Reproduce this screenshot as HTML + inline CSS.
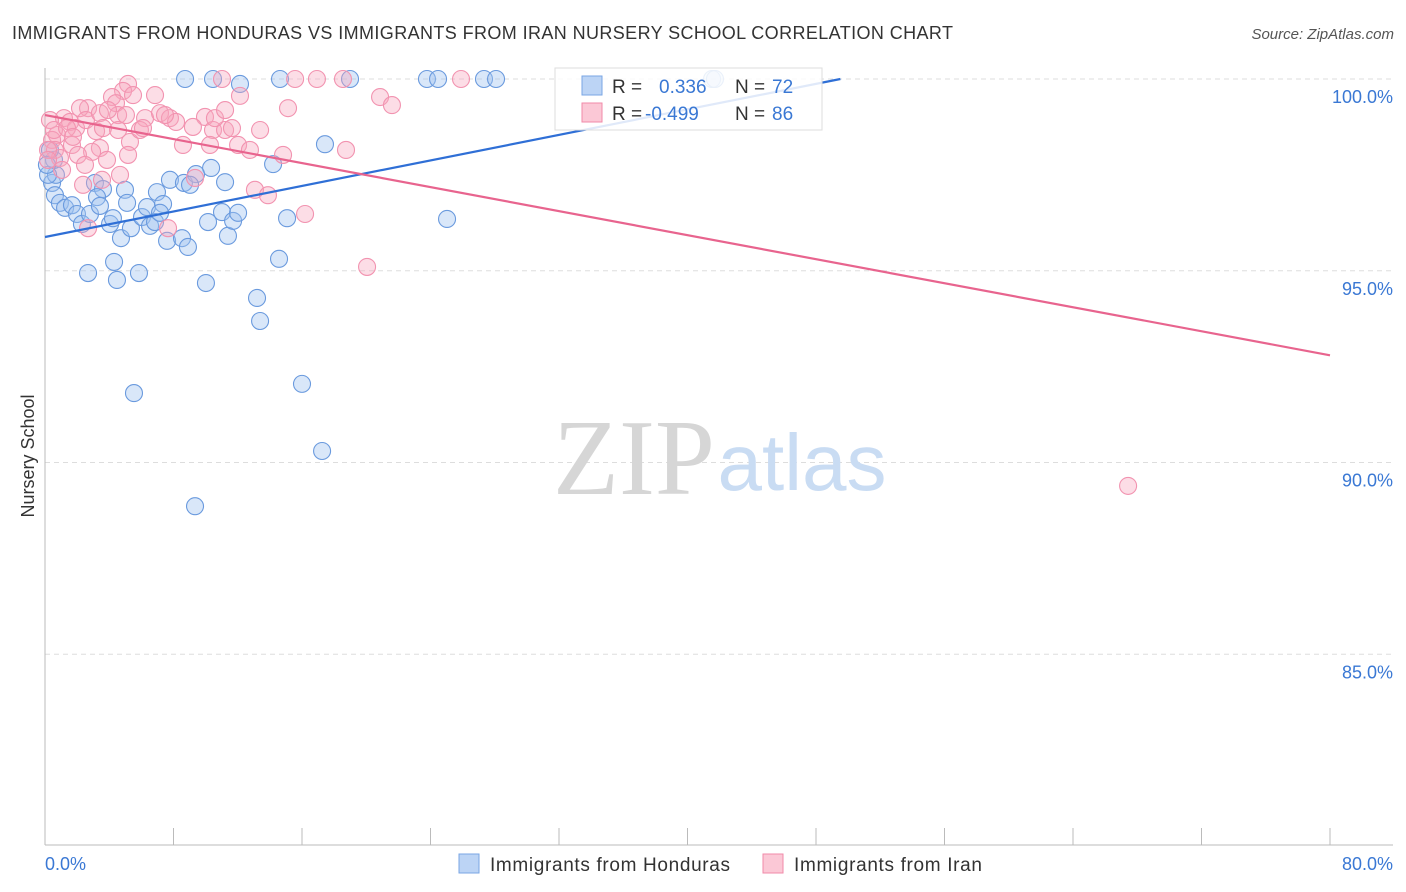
<!DOCTYPE html>
<html><head><meta charset="utf-8"><style>
body{margin:0;background:#fff;font-family:"Liberation Sans",sans-serif}
#wrap{position:relative;width:1406px;height:892px;overflow:hidden}
</style></head><body>
<div id="wrap">
<svg id="svg" width="1406" height="892" xmlns="http://www.w3.org/2000/svg">
<text x="12" y="39" font-size="18" fill="#333" textLength="941">IMMIGRANTS FROM HONDURAS VS IMMIGRANTS FROM IRAN NURSERY SCHOOL CORRELATION CHART</text>
<text x="1394" y="39" font-size="15" fill="#555" font-style="italic" text-anchor="end">Source: ZipAtlas.com</text>
<text x="0" y="0" transform="translate(34,456) rotate(-90)" font-size="18" fill="#333" text-anchor="middle">Nursery School</text>
<g id="grid"></g>
<g>
<text x="634" y="494" font-family="Liberation Serif,serif" font-size="108" fill="#d6d6d6" text-anchor="middle">ZIP</text>
<text x="802" y="490" font-size="80" fill="#c9dcf3" text-anchor="middle">atlas</text>
</g>
<g id="pts"></g>
<g id="trends"></g>
<g>
<rect x="555" y="68" width="267" height="62" fill="#fff" fill-opacity="0.85" stroke="#ddd"/>
<rect x="582" y="76" width="20" height="19" fill="#bcd4f5" stroke="#7aa6e4"/>
<rect x="582" y="103" width="20" height="19" fill="#fbc8d6" stroke="#f08aa8"/>
<text x="612" y="93" font-size="19" fill="#333">R = </text><text x="659" y="93" font-size="19" fill="#3a78d4">0.336</text>
<text x="735" y="93" font-size="19" fill="#333">N = </text><text x="772" y="93" font-size="19" fill="#3a78d4">72</text>
<text x="612" y="120" font-size="19" fill="#333">R = </text><text x="645" y="120" font-size="19" fill="#3a78d4">-0.499</text>
<text x="735" y="120" font-size="19" fill="#333">N = </text><text x="772" y="120" font-size="19" fill="#3a78d4">86</text>
</g>
<g>
<rect x="459" y="854" width="20" height="19" fill="#bcd4f5" stroke="#7aa6e4"/>
<text x="490" y="871" font-size="19" fill="#333" textLength="240">Immigrants from Honduras</text>
<rect x="763" y="854" width="20" height="19" fill="#fbc8d6" stroke="#f08aa8"/>
<text x="794" y="871" font-size="19" fill="#333" textLength="188">Immigrants from Iran</text>
</g>
</svg>
</div>
<script>
const yTicks=[100,95,90,85];
const yTickLabels=["100.0%","95.0%","90.0%","85.0%"];
const xTickCount=[0,8,16,24,32,40,48,56,64,72,80];
const xEndLabels=["0.0%","80.0%"];
const hondurasX=[8.72,10.46,12.14,14.63,18.99,23.78,24.47,27.33,28.08,41.53,41.71,17.43,10.34,14.20,0.44,0.68,3.11,3.61,4.98,6.97,7.78,8.65,9.40,9.03,11.21,0.62,0.93,1.25,1.68,1.99,2.30,2.80,3.24,3.42,4.05,4.23,4.73,5.11,5.35,6.04,6.35,6.54,6.85,7.35,7.16,7.60,8.53,8.90,10.15,11.02,11.39,11.71,12.02,15.07,25.03,14.57,4.30,2.68,4.48,5.85,10.02,13.20,13.39,5.54,16.00,17.25,9.34,0.19,0.56,0.31,0.12];
const hondurasY=[100,100,99.87,100,100,100,100,100,100,100,100,98.30,97.68,97.78,97.29,97.50,97.29,97.13,97.11,97.05,97.37,97.29,97.52,97.24,97.31,96.97,96.77,96.64,96.71,96.48,96.22,96.48,96.92,96.69,96.22,96.37,95.85,96.77,96.11,96.40,96.66,96.17,96.27,96.74,96.51,95.78,95.85,95.62,96.27,96.53,95.91,96.30,96.51,96.37,96.35,95.31,95.23,94.94,94.76,94.94,94.68,94.29,93.69,91.81,92.05,90.30,88.86,97.50,97.89,98.15,97.76];
const iranX=[12.14,15.57,16.93,18.55,25.90,11.02,5.17,4.86,20.86,21.60,15.13,6.85,4.17,4.42,2.68,2.18,1.18,1.56,1.93,2.55,3.42,4.55,5.04,6.23,7.16,7.78,8.16,9.96,10.46,11.21,13.39,10.27,8.59,12.02,14.82,18.74,12.76,5.29,3.42,2.93,0.75,0.44,0.62,0.93,1.68,2.05,2.49,3.86,5.17,2.37,2.68,4.67,7.66,9.34,13.07,13.88,16.19,20.05,67.43,0.31,0.56,0.19,1.37,3.18,3.61,5.91,7.47,9.21,10.58,11.64,3.92,5.48,1.74,4.55,0.19,1.06,3.55,6.10,11.21];
const iranY=[99.56,100,100,100,100,100,99.87,99.69,99.53,99.32,99.24,99.58,99.53,99.37,99.24,99.24,98.98,98.88,98.72,98.93,99.11,99.06,99.06,98.98,99.11,98.98,98.88,99.01,98.67,98.67,98.67,98.28,98.28,98.28,98.02,98.15,98.15,98.36,98.20,98.10,98.54,98.41,98.15,97.94,98.28,98.02,97.76,97.89,98.02,97.24,96.11,97.50,96.11,97.42,97.11,96.97,96.48,95.10,89.39,98.93,98.67,98.15,98.72,98.64,98.72,98.67,99.06,98.75,98.98,98.72,99.19,99.58,98.49,98.67,97.89,97.63,97.37,98.72,99.19];
const hondurasTrend=[95.88,0.0832];
const iranTrend=[99.06,-0.0783];

const NS="http://www.w3.org/2000/svg";
const X=v=>45+v/80*1285;
const Y=v=>79+(100-v)*38.35;
function mk(tag,attrs,parent){const e=document.createElementNS(NS,tag);for(const k in attrs)e.setAttribute(k,attrs[k]);parent.appendChild(e);return e;}
const grid=document.getElementById('grid');
yTicks.forEach((t,i)=>{
 const l=mk('line',{x1:45,x2:1393,y1:Y(t),y2:Y(t),stroke:'#ddd','stroke-dasharray':'5,4'},grid);
 
 
 const tx=mk('text',{x:1393,y:Y(t)+24,'font-size':18,fill:'#3a78d4','text-anchor':'end'},grid);
 tx.textContent=yTickLabels[i];
 
 
});
const ax=mk('line',{x1:45,x2:45,y1:68,y2:845,stroke:'#bbb'},grid);


const bx=mk('line',{x1:45,x2:1393,y1:845,y2:845,stroke:'#bbb'},grid);


xTickCount.forEach(t=>{
 const l=mk('line',{x1:X(t),x2:X(t),y1:828,y2:845,stroke:'#bbb'},grid);
 
 
});
[0,80].forEach((v,i)=>{
 const tx=mk('text',{x:i?1393:45,y:870,'font-size':18,fill:'#3a78d4','text-anchor':i?'end':'start'},grid);
 tx.textContent=xEndLabels[i];
 
 
});
const pts=document.getElementById('pts');
hondurasX.forEach((v,i)=>{
 const c=mk('circle',{cx:X(v),cy:Y(hondurasY[i]),r:8.5,fill:'rgba(160,196,240,0.4)',stroke:'#6a9ade','stroke-width':1.1},pts);
 
 
});
iranX.forEach((v,i)=>{
 const c=mk('circle',{cx:X(v),cy:Y(iranY[i]),r:8.5,fill:'rgba(246,166,190,0.38)',stroke:'#f293b0','stroke-width':1.1},pts);
 
 
});
const tr=document.getElementById('trends');
const bEnd=(100-hondurasTrend[0])/hondurasTrend[1];
const t1=mk('line',{x1:X(0),y1:Y(hondurasTrend[0]),x2:X(bEnd),y2:Y(100),stroke:'#2f6fd6','stroke-width':2.2},tr);


const t2=mk('line',{x1:X(0),y1:Y(iranTrend[0]),x2:X(80),y2:Y(iranTrend[0]+iranTrend[1]*80),stroke:'#e8648e','stroke-width':2.2},tr);


</script>
</body></html>
